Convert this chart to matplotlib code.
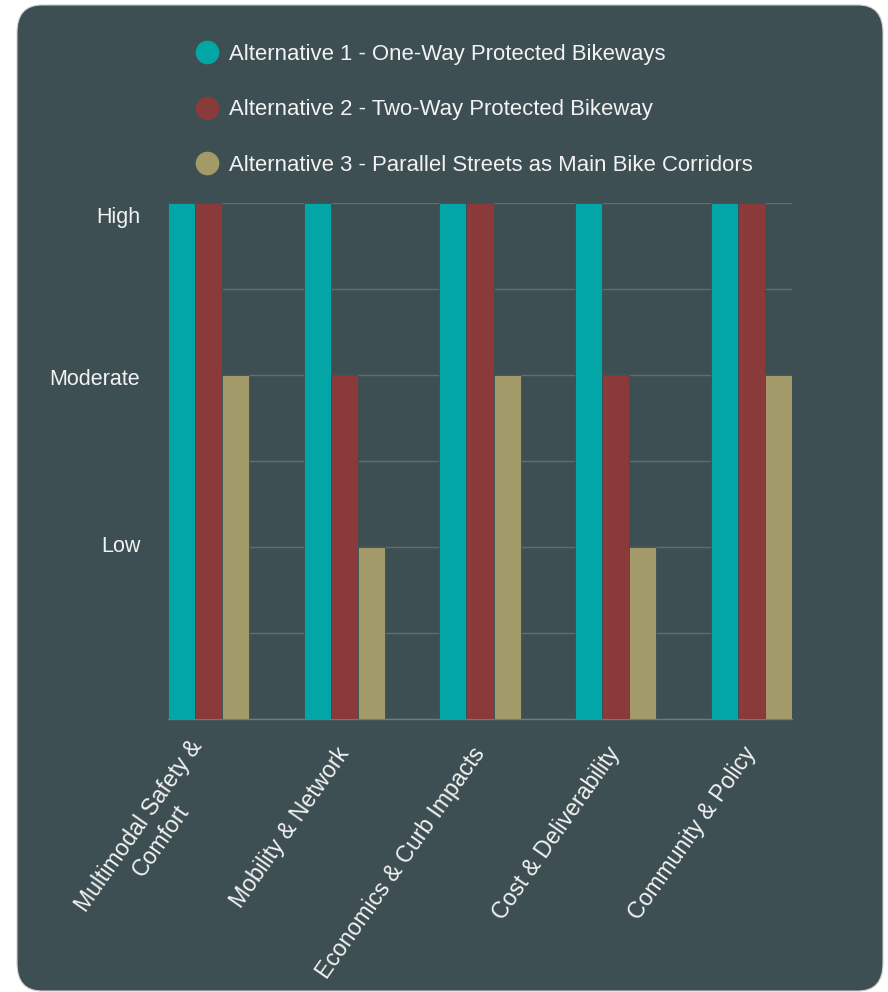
import numpy as np
import matplotlib.pyplot as plt
from matplotlib.patches import FancyBboxPatch
from matplotlib.lines import Line2D

plt.rcParams['font.family'] = ['Liberation Sans', 'DejaVu Sans']

categories = ["Multimodal Safety &\nComfort", "Mobility & Network",
              "Economics & Curb Impacts", "Cost & Deliverability",
              "Community & Policy"]
series_names = ["Alternative 1 - One-Way Protected Bikeways",
                "Alternative 2 - Two-Way Protected Bikeway",
                "Alternative 3 - Parallel Streets as Main Bike Corridors"]
# 1 = Low, 2 = Moderate, 3 = High
alt1 = [3, 3, 3, 3, 3]
alt2 = [3, 2, 3, 2, 3]
alt3 = [2, 1, 2, 1, 2]
level_labels = ["Low", "Moderate", "High"]
level_pos = [1.02, 1.99, 2.93]

colors = ["#03a6a6", "#8b3a3a", "#a39a6a"]
bg = "#3d4f52"
txt = "#f2f2f2"

fig = plt.figure(figsize=(8.88, 9.92), dpi=100)
fig.patch.set_facecolor("white")
# dark rounded card behind the chart
panel = FancyBboxPatch((17 / 888, 0.001), 866 / 888, 0.994,
                       boxstyle="round,pad=0,rounding_size=0.028",
                       transform=fig.transFigure, facecolor=bg,
                       edgecolor="#d0d0d0", linewidth=0.8, zorder=-5)
fig.patches.append(panel)

ax = fig.add_axes([168 / 888, 1 - 719 / 992, 624 / 888, 516 / 992])
ax.set_facecolor("none")

x = np.arange(len(categories))
w = 0.2
for i, vals in enumerate([alt1, alt2, alt3]):
    ax.bar(x + (i - 1) * w, vals, width=w, color=colors[i],
           edgecolor=bg, linewidth=0.6, zorder=3)

ax.set_xlim(-0.3, len(categories) - 0.7)
ax.set_ylim(0, 3)
ax.set_yticks(level_pos)
ax.set_yticklabels(level_labels, color=txt, fontsize=15.5)
ax.set_yticks(np.arange(0, 3.01, 0.5), minor=True)
ax.grid(axis="y", which="minor", color="#5d6e71", linewidth=1, zorder=0)
ax.tick_params(axis="y", which="both", length=0, pad=20)

ax.set_xticks(x)
ax.set_xticklabels(categories, rotation=55, ha="right", va="center",
                   rotation_mode="anchor", color=txt, fontsize=16.6,
                   multialignment="center")
ax.tick_params(axis="x", length=0, pad=22)

for s in ["top", "right", "left"]:
    ax.spines[s].set_visible(False)
ax.spines["bottom"].set_color("#6b7b7e")
ax.spines["bottom"].set_linewidth(1)

handles = [Line2D([], [], marker="o", linestyle="none", markersize=16,
                  markerfacecolor=c, markeredgecolor=c) for c in colors]
fig.legend(handles, series_names, loc="upper left",
           bbox_to_anchor=(176 / 888, 1 - 24 / 992), frameon=False,
           fontsize=15.9, labelcolor=txt, labelspacing=1.56,
           handlelength=1.0, handletextpad=0.5)

fig.savefig("out.png", dpi=100, facecolor="white")
